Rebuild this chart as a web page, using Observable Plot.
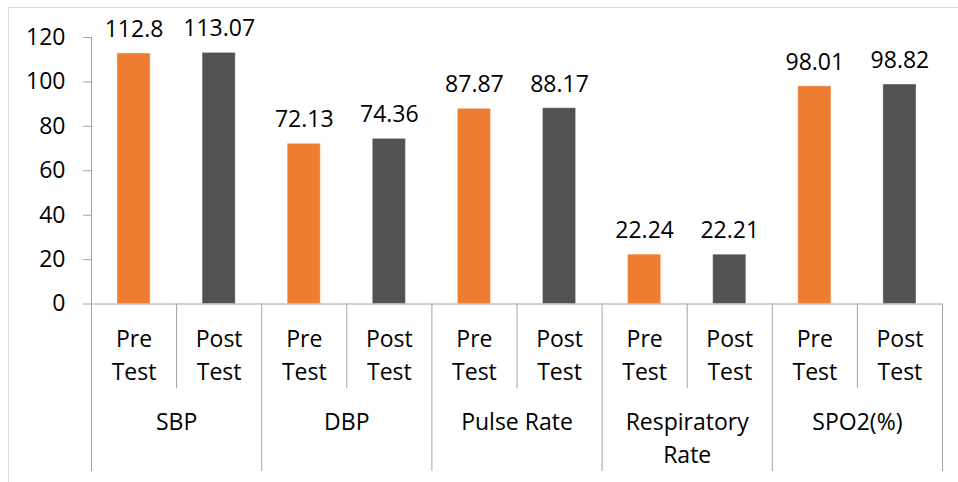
<!DOCTYPE html>
<html><head><meta charset="utf-8">
<script src="https://cdn.jsdelivr.net/npm/d3@7"></script>
<script src="https://cdn.jsdelivr.net/npm/@observablehq/plot@0.6"></script>
<style>
body{margin:0;background:#fff;}
#wrap{position:relative;width:958px;height:482px;overflow:hidden;}
#border{position:absolute;left:8px;top:7px;right:-10px;bottom:-10px;border:1px solid #d9d9d9;pointer-events:none;}
svg{display:block;}
</style></head><body><div id="wrap"></div>
<script>
const groups = ["SBP", "DBP", "Pulse Rate", "Respiratory\nRate", "SPO2(%)"];
const tests = ["Pre\nTest", "Post\nTest"];
const preTest = [112.8, 72.13, 87.87, 22.24, 98.01];
const postTest = [113.07, 74.36, 88.17, 22.21, 98.82];
const yTicks = [0, 20, 40, 60, 80, 100, 120];
const colors = ["#ED7D31", "#525252"];

const rows = groups.flatMap((g, gi) => tests.map((t, ti) => ({
  group: g, test: t, i: gi * 2 + ti, value: ti ? postTest[gi] : preTest[gi]
})));
const groupRows = groups.map((g, gi) => ({group: g, mid: gi * 2 + 1}));
const edges = d3.range(0, rows.length + 1);

const rowSplit = -38.05;   // bottom of the first category level
const tableBottom = -75.4; // bottom of the second category level
const lineColor = "#a3a3a3";

const chart = Plot.plot({
  width: 958,
  height: 482,
  marginTop: 37,
  marginBottom: 11,
  marginLeft: 91,
  marginRight: 16,
  style: {fontFamily: "'Open Sans', sans-serif", fontSize: "23px", color: "#000", background: "#fff"},
  x: {type: "linear", domain: [0, rows.length], axis: null},
  y: {domain: [tableBottom, 120]},
  color: {domain: tests, range: colors},
  marks: [
    Plot.rectY(rows, {x1: "i", x2: d => d.i + 1, y1: 0, y2: "value", fill: "test",
      insetLeft: 26, insetRight: 26, stroke: "#ffffff", strokeOpacity: 0.35, strokeWidth: 1}),
    Plot.text(rows, {x: d => d.i + 0.5, y: "value", text: d => String(d.value),
      dy: -24, lineAnchor: "middle", fill: "#000"}),
    Plot.axisY(yTicks, {tickSize: 8, tickPadding: 18, stroke: lineColor, fill: "#000", label: null}),
    Plot.ruleX([0], {y1: 0, y2: 120, stroke: lineColor}),
    Plot.ruleY([0], {x1: 0, x2: rows.length, stroke: lineColor}),
    Plot.ruleX(edges, {x: d => d, y1: 0, y2: d => d % 2 ? rowSplit : tableBottom, stroke: lineColor}),
    Plot.text(rows, {x: d => d.i + 0.5, y: 0, text: "test", dy: 49, lineAnchor: "middle", lineHeight: 1.42, fill: "#000"}),
    Plot.text(groupRows, {x: "mid", y: 0, text: "group", dy: 103, lineAnchor: "top", lineHeight: 1.42, fill: "#000"})
  ]
});
const wrap = document.getElementById("wrap");
wrap.appendChild(chart);
const border = document.createElement("div");
border.id = "border";
wrap.appendChild(border);
</script>
</body></html>
